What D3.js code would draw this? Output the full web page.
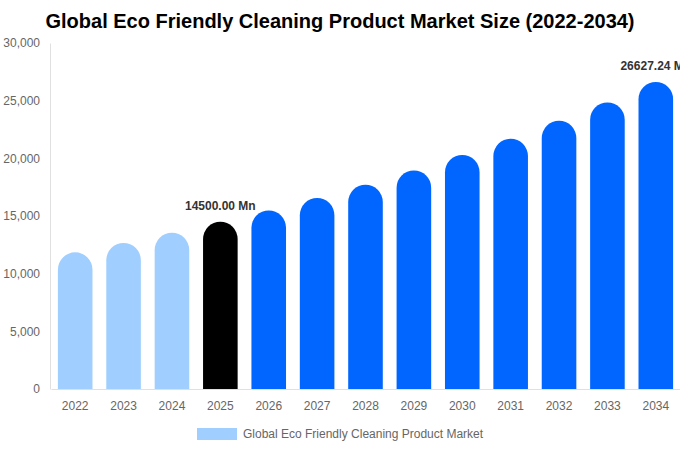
<!DOCTYPE html>
<html>
<head>
<meta charset="utf-8">
<script src="https://cdn.jsdelivr.net/npm/d3@7"></script>
<style>
  body { margin: 0; background: #fff; }
  svg { font-family: "Liberation Sans", Arial, sans-serif; display: block; }
</style>
</head>
<body>
<div class="chart--container"></div>
<script>
let years = ['2022', '2023', '2024', '2025', '2026', '2027', '2028', '2029', '2030', '2031', '2032', '2033', '2034'],
    marketSize = [11850, 12660, 13550, 14500, 15480, 16560, 17710, 18950, 20290, 21700, 23260, 24850, 26627.24],
    yTicks = [0, 5000, 10000, 15000, 20000, 25000, 30000],
    labelledYears = ['2025', '2034'],
    title = 'Global Eco Friendly Cleaning Product Market Size (2022-2034)',
    seriesName = 'Global Eco Friendly Cleaning Product Market';

let width = 680, height = 450,
    plot = {l: 51, r: 680, t: 43, b: 389},
    barColor = y => +y < 2025 ? '#a0cfff' : (+y === 2025 ? '#000000' : '#0066ff');

let svg = d3.select('.chart--container')
            .append('svg')
            .attr('width', width)
            .attr('height', height);

// title
svg.append('text')
    .attr('x', 340)
    .attr('y', 28)
    .attr('text-anchor', 'middle')
    .attr('font-size', 20)
    .attr('font-weight', 'bold')
    .attr('fill', '#000')
    .text(title);

// scales
let scale_x = d3.scaleBand()
                .domain(years)
                .range([plot.l, plot.r])
                .paddingInner(0.285)
                .paddingOuter(0.1425);

let scale_y = d3.scaleLinear()
                .domain([0, 30000])
                .range([plot.b, plot.t]);

// y-axis
let yAxis = svg.append('g')
    .attr('transform', `translate(${plot.l - 1}, 0)`)
    .call(d3.axisLeft(scale_y).tickValues(yTicks).tickSize(0).tickPadding(10).tickFormat(d3.format(',')));
yAxis.select('.domain').attr('stroke', '#e0e0e0');
yAxis.selectAll('text').attr('fill', '#666').attr('font-size', 12).attr('font-family', 'Liberation Sans, Arial, sans-serif');

// bars with rounded tops
let barPath = d => {
    let x0 = scale_x(d.year), w = scale_x.bandwidth(), r = w / 2,
        y0 = scale_y(d.value), yb = scale_y(0);
    return `M${x0},${yb} L${x0},${y0 + r} A${r},${r} 0 0 1 ${x0 + w},${y0 + r} L${x0 + w},${yb} Z`;
};

let rows = years.map((y, i) => ({year: y, value: marketSize[i]}));

svg.append('g')
    .selectAll('path')
    .data(rows)
    .enter()
    .append('path')
    .attr('d', barPath)
    .attr('fill', d => barColor(d.year));

// x-axis
let xAxis = svg.append('g')
    .attr('transform', `translate(0, ${plot.b})`)
    .call(d3.axisBottom(scale_x).tickSize(0).tickPadding(12).tickSizeOuter(0));
xAxis.select('.domain').attr('stroke', '#e0e0e0');
xAxis.selectAll('text').attr('fill', '#666').attr('font-size', 12).attr('font-family', 'Liberation Sans, Arial, sans-serif');

// value labels
svg.append('g')
    .selectAll('text')
    .data(rows.filter(d => labelledYears.includes(d.year)))
    .enter()
    .append('text')
    .attr('x', d => scale_x(d.year) + scale_x.bandwidth() / 2)
    .attr('y', d => scale_y(d.value) - 12)
    .attr('text-anchor', 'middle')
    .attr('font-size', 12)
    .attr('font-weight', 'bold')
    .attr('fill', '#333')
    .text(d => d3.format('.2f')(d.value) + ' Mn');

// legend
svg.append('rect')
    .attr('x', 197)
    .attr('y', 428)
    .attr('width', 40)
    .attr('height', 12)
    .attr('fill', '#a0cfff');

svg.append('text')
    .attr('x', 243)
    .attr('y', 438)
    .attr('font-size', 12)
    .attr('fill', '#666')
    .text(seriesName);
</script>
</body>
</html>
